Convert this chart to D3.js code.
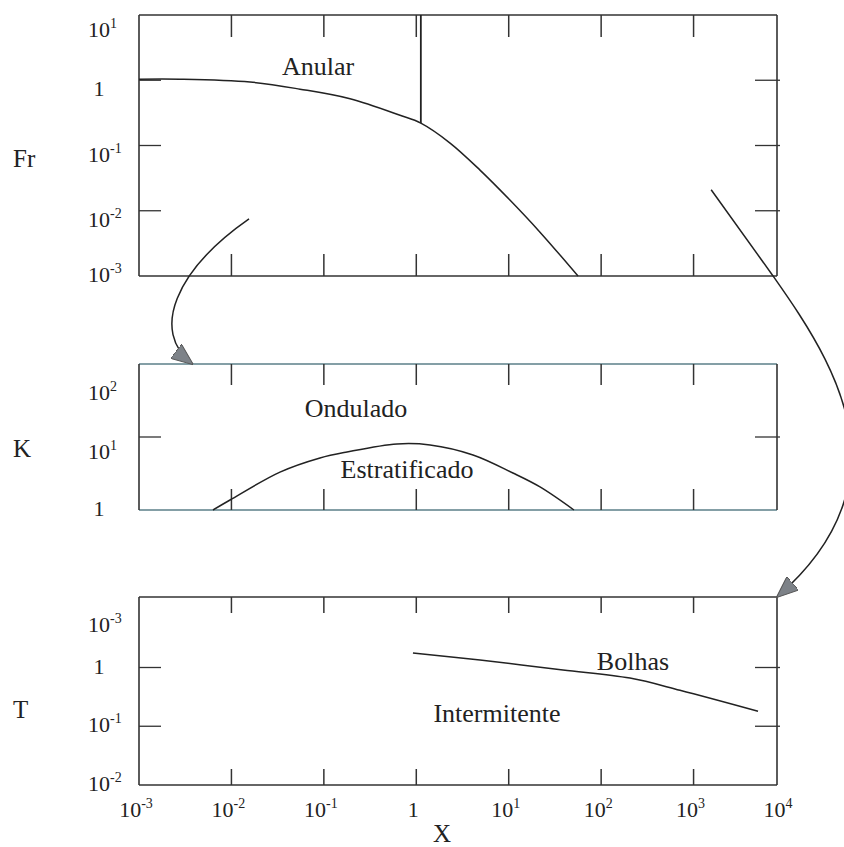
<!DOCTYPE html>
<html>
<head>
<meta charset="utf-8">
<script src="https://d3js.org/d3.v7.min.js"></script>
<style>
  body { margin: 0; background: #fff; }
</style>
</head>
<body>
<div class="chart"></div>
<script>
// shared X axis
let xTicks = [1e-3, 1e-2, 1e-1, 1, 1e1, 1e2, 1e3, 1e4];
let xTickLabels = [["10", "-3"], ["10", "-2"], ["10", "-1"], ["1", ""], ["10", "1"], ["10", "2"], ["10", "3"], ["10", "4"]];
let innerTicks = [1e-2, 1e-1, 1, 1e1, 1e2, 1e3];

// Fr panel (annular boundary)
let frTicks = [10, 1, 0.1, 0.01, 0.001];
let frTickLabels = [["10", "1"], ["1", ""], ["10", "-1"], ["10", "-2"], ["10", "-3"]];
let frSideTicks = [1, 0.1, 0.01];
let frX = [0.001, 0.00278, 0.0159, 0.0552, 0.192, 0.667, 1.12, 2.32, 4.89, 10.3, 21.8, 56.2];
let frY = [1.04, 1.04, 0.94, 0.73, 0.52, 0.29, 0.22, 0.109, 0.042, 0.0146, 0.0047, 0.001];
let frWallX = 1.12;
let frWallY = [10, 0.22];

// K panel (stratified / wavy)
let kTicks = [100, 10, 1];
let kTickLabels = [["10", "2"], ["10", "1"], ["1", ""]];
let kSideTicks = [10];
let kX = [0.00632, 0.00966, 0.0335, 0.0908, 0.178, 0.618, 1.41, 4.11, 11.1, 21.8, 50.8];
let kY = [1, 1.37, 3.3, 5.16, 6.23, 8.02, 7.77, 5.67, 3.21, 2.07, 1];

// T panel (intermittent / bubbles)
let tTicks = [10, 1, 0.1, 0.01];
let tTickLabels = [["10", "-3"], ["1", ""], ["10", "-1"], ["10", "-2"]];
let tSideTicks = [1, 0.1];
let tX = [0.92, 4.89, 38.6, 205, 713, 4980];
let tY = [1.77, 1.34, 0.91, 0.66, 0.41, 0.18];

// region names
let regionNames = ["Anular", "Ondulado", "Estratificado", "Bolhas", "Intermitente"];
let regionPanel = ["fr", "k", "k", "t", "t"];
let regionX = [0.0865, 0.223, 0.794, 221, 7.46];
let regionY = [1.2, 18.8, 2.74, 0.906, 0.118];

let width = 844, height = 847;
let left = 139, right = 777;
let ink = "#333";
let serif = "'Liberation Serif', 'Times New Roman', serif";

let svg = d3.select(".chart").append("svg")
    .attr("width", width)
    .attr("height", height)
    .style("font-family", serif);

let x = d3.scaleLog().domain([1e-3, 1e4]).range([left, 786]);

let panels = {
    fr: { top: 15, bottom: 276, domain: [1e-3, 10], tickLen: 22, name: "Fr", nameY: 167,
          ticks: frTicks, labels: frTickLabels, side: frSideTicks, dy: 16, labelTop: 37, edge: ink },
    k:  { top: 364, bottom: 510, domain: [1, 100], tickLen: 21, name: "K", nameY: 457,
          ticks: kTicks, labels: kTickLabels, side: kSideTicks, dy: 22, labelTop: 400, edge: "#5b7f88" },
    t:  { top: 597, bottom: 785, domain: [0.01, Math.pow(10, 1.2)], tickLen: 16, name: "T", nameY: 718,
          ticks: tTicks, labels: tTickLabels, side: tSideTicks, dy: 6, labelTop: 632, edge: ink }
};

function supLabel(sel, pair) {
    sel.append("tspan").text(pair[0]);
    if (pair[1] !== "") {
        sel.append("tspan").attr("font-size", 14).attr("dy", -9).text(pair[1]);
    }
}

Object.keys(panels).forEach(function(key) {
    let p = panels[key];
    p.y = d3.scaleLog().domain(p.domain).range([p.bottom, p.top]);
    let g = svg.append("g").attr("class", "panel-" + key);

    // frame
    g.append("line").attr("x1", left).attr("x2", right).attr("y1", p.top).attr("y2", p.top)
        .attr("stroke", p.edge).attr("stroke-width", 1.6);
    g.append("line").attr("x1", left).attr("x2", right).attr("y1", p.bottom).attr("y2", p.bottom)
        .attr("stroke", p.edge).attr("stroke-width", 1.6);
    g.append("line").attr("x1", left).attr("x2", left).attr("y1", p.top).attr("y2", p.bottom)
        .attr("stroke", ink).attr("stroke-width", 1.6);
    g.append("line").attr("x1", right).attr("x2", right).attr("y1", p.top).attr("y2", p.bottom)
        .attr("stroke", ink).attr("stroke-width", 1.6);

    // x ticks on top and bottom edges
    g.selectAll(".xt-top").data(innerTicks).enter().append("line")
        .attr("x1", d => x(d)).attr("x2", d => x(d))
        .attr("y1", p.top).attr("y2", p.top + p.tickLen)
        .attr("stroke", ink).attr("stroke-width", 1.5);
    g.selectAll(".xt-bot").data(innerTicks).enter().append("line")
        .attr("x1", d => x(d)).attr("x2", d => x(d))
        .attr("y1", p.bottom).attr("y2", p.bottom - p.tickLen)
        .attr("stroke", ink).attr("stroke-width", 1.5);

    // y ticks left and right
    g.selectAll(".yt-l").data(p.side).enter().append("line")
        .attr("x1", left).attr("x2", left + 22)
        .attr("y1", d => p.y(d)).attr("y2", d => p.y(d))
        .attr("stroke", ink).attr("stroke-width", 1.3);
    g.selectAll(".yt-r").data(p.side).enter().append("line")
        .attr("x1", right - 22).attr("x2", right + 3)
        .attr("y1", d => p.y(d)).attr("y2", d => p.y(d))
        .attr("stroke", ink).attr("stroke-width", 1.3);

    // y tick labels
    p.ticks.forEach(function(v, i) {
        let pair = p.labels[i];
        let yy = Math.max(p.labelTop, Math.min(p.bottom + 6, p.y(v) + p.dy));
        let t = g.append("text")
            .attr("x", pair[1] === "" ? 99 : 88)
            .attr("y", yy)
            .attr("font-size", 22)
            .attr("fill", "#222")
            .attr("text-anchor", pair[1] === "" ? "middle" : "start");
        supLabel(t, pair);
    });

    // axis name
    g.append("text").attr("x", 13).attr("y", p.nameY).attr("font-size", 25)
        .attr("fill", "#222").text(p.name);
});

// x tick labels below the last panel
xTicks.forEach(function(v, i) {
    let t = svg.append("text")
        .attr("x", Math.min(x(v), right + 4) - 3)
        .attr("y", 817)
        .attr("font-size", 22)
        .attr("fill", "#222")
        .attr("text-anchor", "middle");
    supLabel(t, xTickLabels[i]);
});
svg.append("text").attr("x", 442).attr("y", 842).attr("font-size", 25)
    .attr("fill", "#222").attr("text-anchor", "middle").text("X");

// boundary curves
function curve(p, xs, ys) {
    let pts = xs.map((d, i) => [d, ys[i]]);
    let line = d3.line().x(d => x(d[0])).y(d => p.y(d[1])).curve(d3.curveCatmullRom.alpha(0.5));
    svg.append("path").datum(pts).attr("d", line)
        .attr("fill", "none").attr("stroke", "#222").attr("stroke-width", 1.5);
}
curve(panels.fr, frX, frY);
curve(panels.k, kX, kY);
curve(panels.t, tX, tY);

// vertical wall in Fr panel
svg.append("line")
    .attr("x1", x(frWallX)).attr("x2", x(frWallX))
    .attr("y1", panels.fr.y(frWallY[0])).attr("y2", panels.fr.y(frWallY[1]))
    .attr("stroke", "#222").attr("stroke-width", 1.8);

// region names
regionNames.forEach(function(n, i) {
    let p = panels[regionPanel[i]];
    svg.append("text")
        .attr("x", x(regionX[i])).attr("y", p.y(regionY[i]))
        .attr("font-size", 26).attr("fill", "#222")
        .attr("text-anchor", "middle").text(n);
});

// arrows linking panels
let defs = svg.append("defs");
defs.append("marker")
    .attr("id", "head")
    .attr("markerUnits", "userSpaceOnUse")
    .attr("viewBox", "0 0 22 18")
    .attr("refX", 21).attr("refY", 9)
    .attr("markerWidth", 22).attr("markerHeight", 18)
    .attr("orient", "auto")
    .append("path")
    .attr("d", "M0,0 L22,9 L0,18 Z")
    .attr("fill", "#7d8288").attr("stroke", "#555").attr("stroke-width", 1);

// left arrow: Fr panel -> K panel
let a1s = [x(0.0155), panels.fr.y(0.0075)];
let a1e = [x(0.0038), panels.k.top];
let p1 = d3.path();
p1.moveTo(a1s[0], a1s[1]);
p1.bezierCurveTo(a1s[0] - 73, a1s[1] + 51, a1e[0] - 43, a1e[1] - 33, a1e[0], a1e[1]);
svg.append("path").attr("d", p1.toString())
    .attr("fill", "none").attr("stroke", "#222").attr("stroke-width", 1.5)
    .attr("marker-end", "url(#head)");

// right arrow: Fr panel -> T panel corner
let a2s = [x(1550), panels.fr.y(0.021)];
let a2e = [right, panels.t.top];
let p2 = d3.path();
p2.moveTo(a2s[0], a2s[1]);
p2.lineTo(a2s[0] + 61, a2s[1] + 85);
p2.bezierCurveTo(a2s[0] + 94, a2s[1] + 132, a2s[0] + 142, a2s[1] + 200, a2s[0] + 140, a2s[1] + 270);
p2.bezierCurveTo(a2s[0] + 138, a2s[1] + 330, a2e[0] + 37, a2e[1] - 32, a2e[0], a2e[1]);
svg.append("path").attr("d", p2.toString())
    .attr("fill", "none").attr("stroke", "#222").attr("stroke-width", 1.5)
    .attr("marker-end", "url(#head)");
</script>
</body>
</html>
